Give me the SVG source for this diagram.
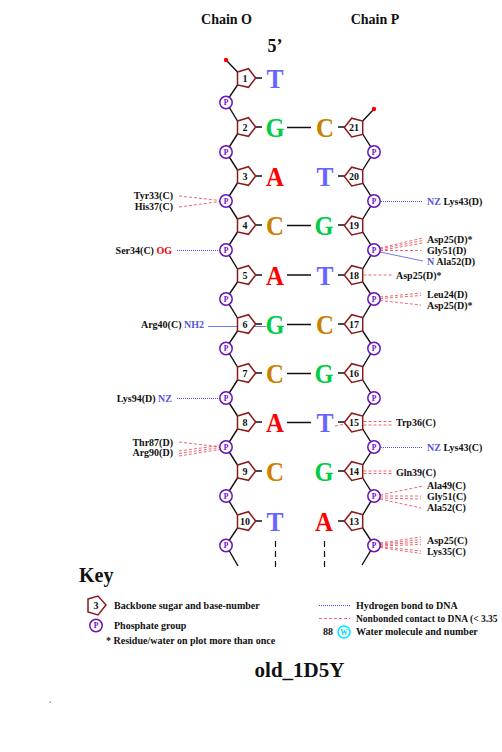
<svg xmlns="http://www.w3.org/2000/svg" width="502" height="752" viewBox="0 0 502 752">
<style>
text{font-family:"Liberation Serif","Times New Roman",serif;font-weight:bold;fill:#111}
.l{font-size:10px}
.e{text-anchor:end}
.num{font-size:10px;text-anchor:middle}
.p{font-size:7.5px;text-anchor:middle;fill:#6a10c0}
.b{font-size:28px;text-anchor:middle}
.T{fill:#6666ff}.G{fill:#00cc44}.A{fill:#ff0000}.C{fill:#cc8000}
.nb{fill:#5555dd}.or{fill:#ee0000}
.pent{fill:#fff;stroke:#8b1a1a;stroke-width:1.5}
.pc{fill:#fff;stroke:#6a10c0;stroke-width:1.5}
.bk{stroke:#111;stroke-width:1.4;fill:none}
.hb{stroke:#5050ff;stroke-width:1;stroke-dasharray:1 1;fill:none}
.nc{stroke:#e84050;stroke-width:.8;stroke-dasharray:3 2;fill:none}
.sb{stroke:#7777ee;stroke-width:1;fill:none}
.bs{stroke:#111;stroke-width:1.7;fill:none}
.ds{stroke:#111;stroke-width:1.2;stroke-dasharray:6 4;fill:none}
</style>
<defs>
<polygon id="pl" class="pent" points="-7.5,-6 3.5,-9.3 10.7,0 3.5,9.3 -7.5,7"/>
<polygon id="pr" class="pent" points="-9.7,0 -2.3,-9.3 8.7,-6.5 8.7,7 -2.3,9.5"/>
<circle id="pp" class="pc" r="6.200"/>
</defs>

<g id="titles">
<text x="226.500" y="24" font-size="14" text-anchor="middle">Chain O</text>
<text x="375" y="24" font-size="14" text-anchor="middle">Chain P</text>
<text x="275" y="52" font-size="18" text-anchor="middle">5’</text>
</g>

<g id="connectors">
<path class="bk" d="M226 60L237.500 72M237.500 85L226 102L237.500 121M237.500 134L226 152L237.500 170M237.500 183L226 201L237.500 219M237.500 232L226 250L237.500 269M237.500 282L226 299L237.500 318M237.500 331L226 348L237.500 367M237.500 380L226 398L237.500 416M237.500 429L226 447L237.500 465M237.500 478L226 496L237.500 515M237.500 528L226 545L238 566"/>
<path class="bk" d="M374 109L362.700 121M362.700 134L374 152L362.700 170M362.700 183L374 201L362.700 219M362.700 232L374 250L362.700 269M362.700 282L374 299L362.700 318M362.700 331L374 348L362.700 367M362.700 380L374 398L362.700 416M362.700 429L374 447L362.700 465M362.700 478L374 496L362.700 515M362.700 528L374 545L362 565"/>
<path class="bk" d="M255 78H262M255 127H262M255 176H262M255 225H262M255 275H262M255 324H262M255 373H262M255 422H262M255 471H262M255 521H262M338 127H345M338 176H345M338 225H345M338 275H345M338 324H345M338 373H345M338 422H345M338 471H345M338 521H345"/>
<path class="bs" d="M287 127.500H311M287 225.500H311M287 275H311M287 324.500H311M287 373.500H311M287 422.500H311"/>
<path class="ds" d="M275.500 541V567M324.500 541V567"/>
<path class="hb" d="M177 250.500H220M177 398.500H220M381 201.500H423M381 447.500H423"/>
<path class="sb" d="M208 326.500H266M380 252L423 261"/>
<path class="nc" d="M179 196L220 200.500M179 207L220 201.500M179 442L220 447M179 451L220 445.500M179 453.500L220 447.500M179 456L220 449.500"/>
<path class="nc" d="M380 248L423 238M380 249L423 240.500M380 250.500L423 243M380 250.500H421M363.500 275H392M380 297L421 293M380 298.500L421 295.500M380 300.500L421 305M363.500 421.500H392M363.500 425H392M335 426L345 424M363.500 471H392M363.500 473.500H392M380 495L423 486M380 496L421 496M380 498L421 499M380 499L421 508M380 543L421 537M380 544L421 539.500M380 545L421 542M380 546L421 544.500M380 546.500L421 551M380 547.500L421 553.500"/>
</g>

<g id="end-5"><circle cx="226" cy="60" r="2.200" fill="#f00"/></g>
<g id="end-3"><circle cx="374" cy="109" r="2.200" fill="#f00"/></g>

<g id="n1" transform="translate(245,78)"><use href="#pl"/><text class="num" y="3.500">1</text></g>
<g id="n2" transform="translate(245,127)"><use href="#pl"/><text class="num" y="3.500">2</text></g>
<g id="n3" transform="translate(245,176)"><use href="#pl"/><text class="num" y="3.500">3</text></g>
<g id="n4" transform="translate(245,225)"><use href="#pl"/><text class="num" y="3.500">4</text></g>
<g id="n5" transform="translate(245,275)"><use href="#pl"/><text class="num" y="3.500">5</text></g>
<g id="n6" transform="translate(245,324)"><use href="#pl"/><text class="num" y="3.500">6</text></g>
<g id="n7" transform="translate(245,373)"><use href="#pl"/><text class="num" y="3.500">7</text></g>
<g id="n8" transform="translate(245,422)"><use href="#pl"/><text class="num" y="3.500">8</text></g>
<g id="n9" transform="translate(245,471)"><use href="#pl"/><text class="num" y="3.500">9</text></g>
<g id="n10" transform="translate(245,521)"><use href="#pl"/><text class="num" y="3.500">10</text></g>
<g id="n21" transform="translate(354,127.500)"><use href="#pr"/><text class="num" y="3.500">21</text></g>
<g id="n20" transform="translate(354,176.500)"><use href="#pr"/><text class="num" y="3.500">20</text></g>
<g id="n19" transform="translate(354,225.500)"><use href="#pr"/><text class="num" y="3.500">19</text></g>
<g id="n18" transform="translate(354,275)"><use href="#pr"/><text class="num" y="3.500">18</text></g>
<g id="n17" transform="translate(354,324)"><use href="#pr"/><text class="num" y="3.500">17</text></g>
<g id="n16" transform="translate(354,373)"><use href="#pr"/><text class="num" y="3.500">16</text></g>
<g id="n15" transform="translate(354,422.500)"><use href="#pr"/><text class="num" y="3.500">15</text></g>
<g id="n14" transform="translate(354,471)"><use href="#pr"/><text class="num" y="3.500">14</text></g>
<g id="n13" transform="translate(354,521)"><use href="#pr"/><text class="num" y="3.500">13</text></g>

<g id="pl1" transform="translate(226,102.500)"><use href="#pp"/><text class="p" y="2.600">P</text></g>
<g id="pl2" transform="translate(226,152)"><use href="#pp"/><text class="p" y="2.600">P</text></g>
<g id="pl3" transform="translate(226,201)"><use href="#pp"/><text class="p" y="2.600">P</text></g>
<g id="pl4" transform="translate(226,250)"><use href="#pp"/><text class="p" y="2.600">P</text></g>
<g id="pl5" transform="translate(226,299)"><use href="#pp"/><text class="p" y="2.600">P</text></g>
<g id="pl6" transform="translate(226,348.500)"><use href="#pp"/><text class="p" y="2.600">P</text></g>
<g id="pl7" transform="translate(226,398)"><use href="#pp"/><text class="p" y="2.600">P</text></g>
<g id="pl8" transform="translate(226,447)"><use href="#pp"/><text class="p" y="2.600">P</text></g>
<g id="pl9" transform="translate(226,496)"><use href="#pp"/><text class="p" y="2.600">P</text></g>
<g id="pl10" transform="translate(226,545.500)"><use href="#pp"/><text class="p" y="2.600">P</text></g>
<g id="pr1" transform="translate(374,152)"><use href="#pp"/><text class="p" y="2.600">P</text></g>
<g id="pr2" transform="translate(374,201)"><use href="#pp"/><text class="p" y="2.600">P</text></g>
<g id="pr3" transform="translate(374,250)"><use href="#pp"/><text class="p" y="2.600">P</text></g>
<g id="pr4" transform="translate(374,299)"><use href="#pp"/><text class="p" y="2.600">P</text></g>
<g id="pr5" transform="translate(374,348.500)"><use href="#pp"/><text class="p" y="2.600">P</text></g>
<g id="pr6" transform="translate(374,398)"><use href="#pp"/><text class="p" y="2.600">P</text></g>
<g id="pr7" transform="translate(374,447)"><use href="#pp"/><text class="p" y="2.600">P</text></g>
<g id="pr8" transform="translate(374,496)"><use href="#pp"/><text class="p" y="2.600">P</text></g>
<g id="pr9" transform="translate(374,545.500)"><use href="#pp"/><text class="p" y="2.600">P</text></g>

<g id="bases-o">
<text class="b T" x="275" y="87.500" textLength="17" lengthAdjust="spacingAndGlyphs">T</text>
<text class="b G" x="275" y="136.500" textLength="19" lengthAdjust="spacingAndGlyphs">G</text>
<text class="b A" x="275" y="185.500" textLength="18" lengthAdjust="spacingAndGlyphs">A</text>
<text class="b C" x="275" y="234.500" textLength="18" lengthAdjust="spacingAndGlyphs">C</text>
<text class="b A" x="275" y="284.500" textLength="18" lengthAdjust="spacingAndGlyphs">A</text>
<text class="b G" x="275" y="333.500" textLength="19" lengthAdjust="spacingAndGlyphs">G</text>
<text class="b C" x="275" y="382.500" textLength="18" lengthAdjust="spacingAndGlyphs">C</text>
<text class="b A" x="275" y="431.500" textLength="18" lengthAdjust="spacingAndGlyphs">A</text>
<text class="b C" x="275" y="480.500" textLength="18" lengthAdjust="spacingAndGlyphs">C</text>
<text class="b T" x="275" y="530.500" textLength="17" lengthAdjust="spacingAndGlyphs">T</text>
</g>
<g id="bases-p">
<text class="b C" x="325" y="136.500" textLength="18" lengthAdjust="spacingAndGlyphs">C</text>
<text class="b T" x="325" y="185.500" textLength="17" lengthAdjust="spacingAndGlyphs">T</text>
<text class="b G" x="324" y="234.500" textLength="19" lengthAdjust="spacingAndGlyphs">G</text>
<text class="b T" x="325" y="284.500" textLength="17" lengthAdjust="spacingAndGlyphs">T</text>
<text class="b C" x="325" y="333.500" textLength="18" lengthAdjust="spacingAndGlyphs">C</text>
<text class="b G" x="324" y="382.500" textLength="19" lengthAdjust="spacingAndGlyphs">G</text>
<text class="b T" x="325" y="431.500" textLength="17" lengthAdjust="spacingAndGlyphs">T</text>
<text class="b G" x="324" y="480.500" textLength="19" lengthAdjust="spacingAndGlyphs">G</text>
<text class="b A" x="324" y="530.500" textLength="18" lengthAdjust="spacingAndGlyphs">A</text>
</g>

<g id="labels-left">
<text class="l e" x="173" y="199">Tyr33(C)</text>
<text class="l e" x="173" y="210">His37(C)</text>
<text class="l e" x="172" y="254">Ser34(C) <tspan class="or">OG</tspan></text>
<text class="l e" x="204" y="328">Arg40(C) <tspan class="nb">NH2</tspan></text>
<text class="l e" x="172" y="402">Lys94(D) <tspan class="nb">NZ</tspan></text>
<text class="l e" x="173" y="446">Thr87(D)</text>
<text class="l e" x="173" y="456">Arg90(D)</text>
</g>
<g id="labels-right">
<text class="l" x="427" y="205"><tspan class="nb">NZ</tspan> Lys43(D)</text>
<text class="l" x="427" y="243">Asp25(D)*</text>
<text class="l" x="427" y="254">Gly51(D)</text>
<text class="l" x="427" y="265"><tspan class="nb">N</tspan> Ala52(D)</text>
<text class="l" x="396" y="279">Asp25(D)*</text>
<text class="l" x="427" y="298">Leu24(D)</text>
<text class="l" x="427" y="309">Asp25(D)*</text>
<text class="l" x="396" y="426">Trp36(C)</text>
<text class="l" x="427" y="451"><tspan class="nb">NZ</tspan> Lys43(C)</text>
<text class="l" x="396" y="476">Gln39(C)</text>
<text class="l" x="427" y="489">Ala49(C)</text>
<text class="l" x="427" y="500">Gly51(C)</text>
<text class="l" x="427" y="511">Ala52(C)</text>
<text class="l" x="427" y="544">Asp25(C)</text>
<text class="l" x="427" y="555">Lys35(C)</text>
</g>

<g id="key">
<text x="79" y="582" font-size="20">Key</text>
<polygon class="pent" points="88,599 98,596 106,605 98,615 88,612"/>
<text x="96" y="609" font-size="10" text-anchor="middle">3</text>
<text class="l" x="114" y="609">Backbone sugar and base-number</text>
<circle class="pc" cx="96" cy="625.500" r="6.200"/>
<text class="p" x="96" y="628.100">P</text>
<text class="l" x="114" y="629">Phosphate group</text>
<text class="l" x="106" y="644">* Residue/water on plot more than once</text>
<path class="hb" d="M319 605.500H350"/>
<path class="nc" d="M319 618.500H350"/>
<text class="l" x="356" y="609">Hydrogen bond to DNA</text>
<text x="356" y="622" font-size="9.500">Nonbonded contact to DNA (&lt; 3.35</text>
<text class="l" x="323" y="635">88</text>
<circle cx="344" cy="632" r="6" fill="#fff" stroke="#00e8ff" stroke-width="1.600"/>
<text x="344" y="634.600" font-size="7.500" text-anchor="middle" style="fill:#00d8f0">W</text>
<text class="l" x="356" y="635">Water molecule and number</text>
</g>

<g id="footer">
<text x="299.500" y="677" font-size="21" text-anchor="middle">old_1D5Y</text>
<rect x="49.500" y="701.500" width="1.500" height="1.500" fill="#999"/>
</g>
</svg>
